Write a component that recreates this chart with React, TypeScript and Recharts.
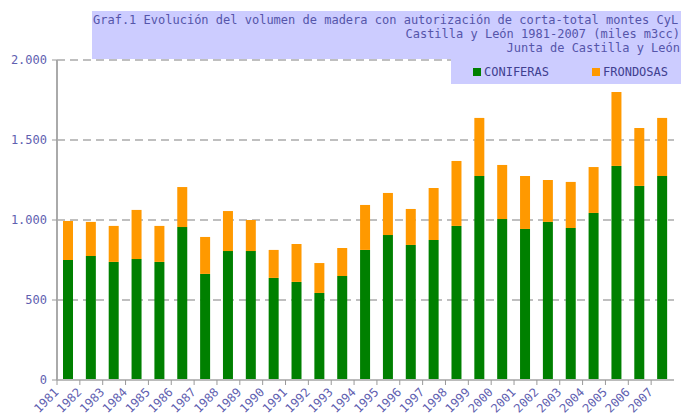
import { Bar, BarChart, CartesianGrid, XAxis, YAxis } from "recharts";

const years = [
  "1981", "1982", "1983", "1984", "1985", "1986", "1987", "1988", "1989",
  "1990", "1991", "1992", "1993", "1994", "1995", "1996", "1997", "1998",
  "1999", "2000", "2001", "2002", "2003", "2004", "2005", "2006", "2007",
];
const coniferas = [
  750, 775, 738, 756, 738, 956, 663, 806, 806, 638, 613, 544, 650, 813,
  906, 844, 875, 963, 1275, 1006, 944, 988, 950, 1044, 1338, 1213, 1275,
];
const frondosas = [
  244, 213, 225, 307, 225, 250, 231, 250, 194, 175, 237, 187, 175, 281,
  263, 225, 325, 406, 363, 338, 331, 262, 288, 287, 462, 362, 363,
];
const yTicks = [0, 500, 1000, 1500, 2000];
const titleLines = [
  "Graf.1 Evolución del volumen de madera con autorización de corta-total montes CyL",
  "Castilla y León 1981-2007 (miles m3cc)",
  "Junta de Castilla y León",
];
const seriesNames = ["CONIFERAS", "FRONDOSAS"];
const seriesColors = ["#008000", "#FF9900"];

const data = years.map((year, i) => ({
  year,
  coniferas: coniferas[i],
  frondosas: frondosas[i],
}));

const MONO = "'DejaVu Sans Mono', monospace";
const BAND = 22.85;

const fmt = (v: number) => v.toLocaleString("de-DE");

function YearTick(props: any) {
  const { x, y, payload } = props;
  const tx = x - 9;
  const ty = y + 13;
  return (
    <g>
      <line x1={x - BAND / 2} y1={y} x2={x - BAND / 2} y2={y + 5} stroke="#999" />
      <text
        x={tx}
        y={ty}
        textAnchor="end"
        transform={`rotate(-45 ${tx} ${ty})`}
        fill="#6060b0"
        fontSize={12}
        fontFamily={MONO}
      >
        {payload.value}
      </text>
    </g>
  );
}

export default function App() {
  return (
    <div style={{ position: "absolute", left: 0, top: 0, width: 681, height: 417, background: "#fff" }}>
      <BarChart
        width={681}
        height={417}
        data={data}
        margin={{ top: 60, right: 7, bottom: 0, left: 0 }}
      >
        <CartesianGrid vertical={false} stroke="#aaa" strokeWidth={1.5} strokeDasharray="8 5" />
        <XAxis
          dataKey="year"
          height={37}
          interval={0}
          tickSize={0}
          tickMargin={0}
          axisLine={{ stroke: "#bbb", strokeWidth: 2 }}
          tickLine={false}
          tick={<YearTick />}
        />
        <YAxis
          width={57}
          domain={[0, 2000]}
          ticks={yTicks}
          tickFormatter={fmt}
          tickSize={5}
          tickMargin={5}
          axisLine={{ stroke: "#aaa", strokeWidth: 2 }}
          tickLine={{ stroke: "#999" }}
          tick={{ fill: "#6060b0", fontSize: 12, fontFamily: MONO }}
        />
        <Bar dataKey="coniferas" stackId="a" fill={seriesColors[0]} barSize={10} isAnimationActive={false} />
        <Bar dataKey="frondosas" stackId="a" fill={seriesColors[1]} barSize={10} isAnimationActive={false} />
      </BarChart>
      <svg
        width={681}
        height={417}
        style={{ position: "absolute", left: 0, top: 0, pointerEvents: "none" }}
      >
        <rect x={92} y={11} width={589} height={48} fill="#ccccff" />
        <rect x={451} y={59} width={230} height={25} fill="#ccccff" />
        {titleLines.map((line, i) => (
          <text
            key={i}
            x={i === 0 ? 93 : 680}
            y={24 + i * 14}
            textAnchor={i === 0 ? "start" : "end"}
            fill="#5555aa"
            fontSize={12}
            fontFamily={MONO}
          >
            {line}
          </text>
        ))}
        {seriesNames.map((name, i) => (
          <g key={name}>
            <rect x={473 + i * 119} y={68} width={8} height={8} fill={seriesColors[i]} />
            <text x={484 + i * 119} y={76} fill="#404090" fontSize={12} fontFamily={MONO}>
              {name}
            </text>
          </g>
        ))}
      </svg>
    </div>
  );
}
